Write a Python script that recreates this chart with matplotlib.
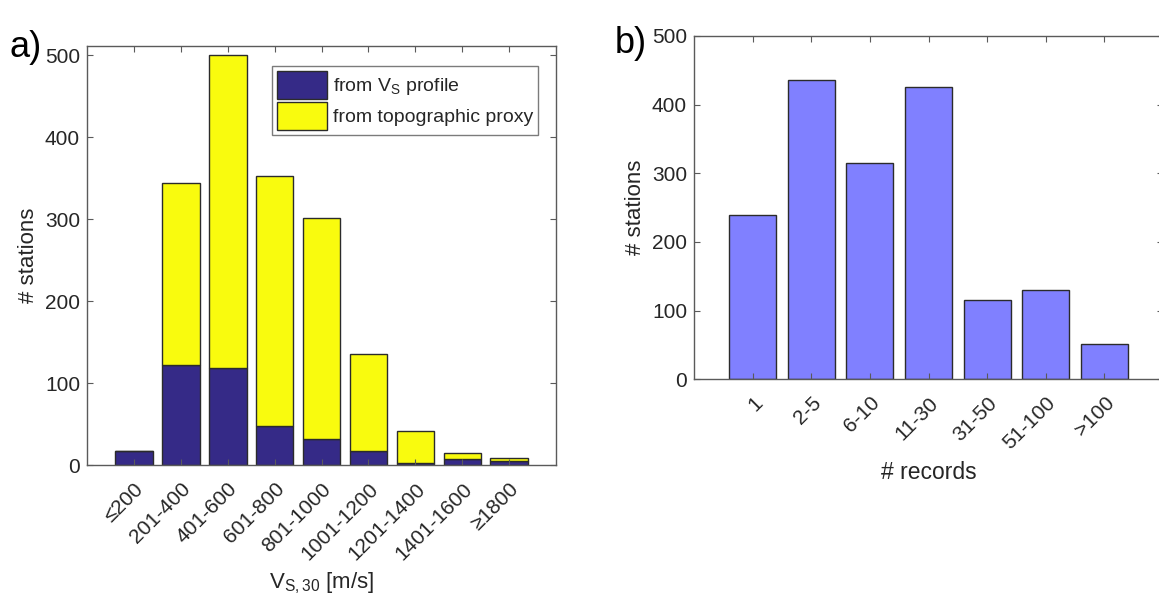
import matplotlib
matplotlib.use("Agg")
import matplotlib.pyplot as plt
import numpy as np

plt.rcParams["font.family"] = ["Liberation Sans", "DejaVu Sans"]
plt.rcParams["mathtext.fontset"] = "custom"
plt.rcParams["mathtext.rm"] = "Liberation Sans"
plt.rcParams["mathtext.it"] = "Liberation Sans:italic"

# station counts per Vs30 class
vs_classes = ["≤200", "201-400", "401-600", "601-800", "801-1000",
              "1001-1200", "1201-1400", "1401-1600", "≥1800"]
from_profile = [17, 122, 119, 48, 32, 18, 3, 8, 5]
from_proxy = [0, 222, 381, 305, 269, 118, 39, 7, 4]

# station counts per number of records
record_classes = ["1", "2-5", "6-10", "11-30", "31-50", "51-100", ">100"]
record_counts = [240, 436, 315, 425, 116, 130, 51]

TXT = "#262626"
EDGE = "#2b2b2b"
NAVY = "#352A87"
YELLOW = "#F9FB0E"
LILAC = "#8080FF"


def style_axes(ax, fs):
    for sp in ax.spines.values():
        sp.set_color("#5a5a5a")
        sp.set_linewidth(1.0)
    ax.tick_params(direction="in", length=4, width=0.8, color="#5a5a5a",
                   top=True, right=True, labelsize=fs, labelcolor=TXT, pad=5)
    ax.tick_params(axis="x", pad=10)


fig = plt.figure(figsize=(11.59, 6.04), dpi=100)

# a) stacked histogram of Vs30 sources
ax1 = fig.add_axes([0.0751, 0.2296, 0.4047, 0.6942])
x1 = np.arange(1, len(vs_classes) + 1)
ax1.bar(x1, from_profile, width=0.8, color=NAVY, edgecolor=EDGE,
        linewidth=1.0, label="from V$_\\mathrm{S}$ profile")
ax1.bar(x1, from_proxy, width=0.8, bottom=from_profile, color=YELLOW,
        edgecolor=EDGE, linewidth=1.0, label="from topographic proxy")
ax1.set_xlim(0, 10)
ax1.set_ylim(0, 511)
ax1.set_yticks([0, 100, 200, 300, 400, 500])
ax1.set_xticks(x1)
ax1.set_xticklabels(vs_classes, rotation=45, ha="right", rotation_mode="anchor")
style_axes(ax1, 15)
ax1.set_ylabel("# stations", fontsize=16, color=TXT)
ax1.set_xlabel("V$_\\mathrm{S,30}$ [m/s]", fontsize=16, color=TXT, labelpad=5)
leg = ax1.legend(loc="upper right", bbox_to_anchor=(0.962, 0.952),
                 fontsize=14, frameon=True, fancybox=False,
                 handlelength=2.6, handleheight=1.8, handletextpad=0.3,
                 borderpad=0.25, labelspacing=0.2, borderaxespad=0)
leg.get_frame().set_edgecolor("#5a5a5a")
leg.get_frame().set_linewidth(1.0)
for t in leg.get_texts():
    t.set_color(TXT)
fig.text(0.008, 0.905, "a)", fontsize=26, color="black")

# b) histogram of records per station
ax2 = fig.add_axes([0.5988, 0.372, 0.4047, 0.5684])
x2 = np.arange(1, len(record_classes) + 1)
ax2.bar(x2, record_counts, width=0.8, color=LILAC, edgecolor=EDGE,
        linewidth=1.0)
ax2.set_xlim(0, 8)
ax2.set_ylim(0, 500)
ax2.set_yticks([0, 100, 200, 300, 400, 500])
ax2.set_xticks(x2)
ax2.set_xticklabels(record_classes, rotation=45, ha="right",
                    rotation_mode="anchor")
style_axes(ax2, 15)
ax2.set_ylabel("# stations", fontsize=16, color=TXT)
ax2.set_xlabel("# records", fontsize=16.5, color=TXT, labelpad=6)
fig.text(0.53, 0.912, "b)", fontsize=26, color="black")

fig.savefig("out.png", dpi=100)
